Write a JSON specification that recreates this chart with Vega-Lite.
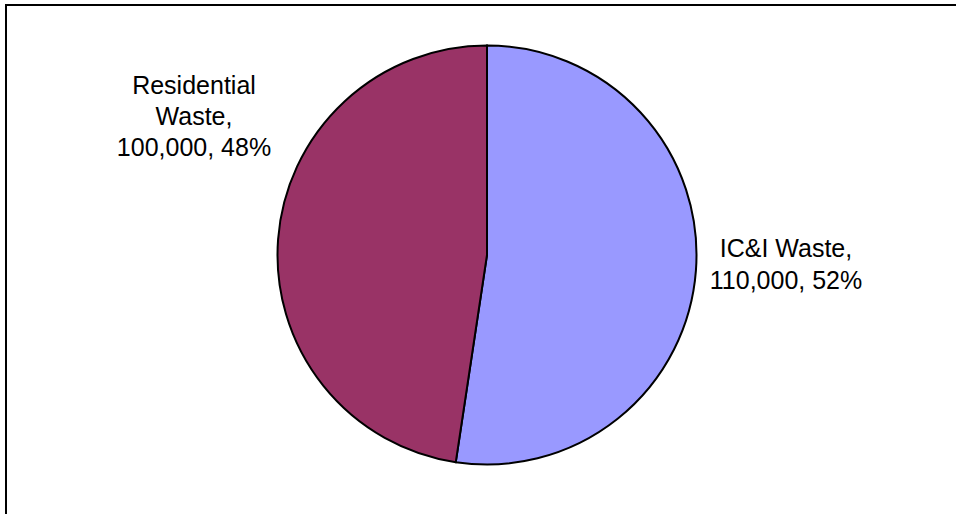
{
  "$schema": "https://vega.github.io/schema/vega-lite/v6.json",
  "autosize": "none",
  "width": 938,
  "height": 510,
  "padding": {"left": 18, "top": 0, "right": 0, "bottom": 4},
  "background": "white",
  "config": {"view": {"stroke": null}, "font": "Liberation Sans"},
  "data": {
    "values": [
      {"category": "IC&I Waste", "value": 110000, "label": ["IC&I Waste,", "110,000, 52%"]},
      {"category": "Residential Waste", "value": 100000, "label": ["Residential", "Waste,", "100,000, 48%"]}
    ]
  },
  "layer": [
    {
      "mark": {"type": "rule", "color": "black", "strokeWidth": 2},
      "encoding": {"x": {"value": -12}, "x2": {"value": 940}, "y": {"value": 5}}
    },
    {
      "mark": {"type": "rule", "color": "black", "strokeWidth": 2},
      "encoding": {"x": {"value": -12}, "y": {"value": 4}, "y2": {"value": 516}}
    },
    {
      "mark": {"type": "arc", "outerRadius": 209.5, "stroke": "black", "strokeWidth": 2},
      "encoding": {
        "theta": {"field": "value", "type": "quantitative", "stack": true},
        "order": {"field": "value", "sort": "descending"},
        "color": {
          "field": "category",
          "type": "nominal",
          "scale": {"domain": ["IC&I Waste", "Residential Waste"], "range": ["#9999FF", "#993366"]},
          "legend": null
        }
      }
    },
    {
      "transform": [{"filter": "datum.category === 'Residential Waste'"}],
      "mark": {"type": "text", "fontSize": 25, "lineHeight": 31, "align": "center", "baseline": "middle", "dx": -293, "dy": -169, "color": "black"},
      "encoding": {"text": {"field": "label"}}
    },
    {
      "transform": [{"filter": "datum.category === 'IC&I Waste'"}],
      "mark": {"type": "text", "fontSize": 25, "lineHeight": 32, "align": "center", "baseline": "middle", "dx": 299, "dy": -6, "color": "black"},
      "encoding": {"text": {"field": "label"}}
    }
  ]
}
